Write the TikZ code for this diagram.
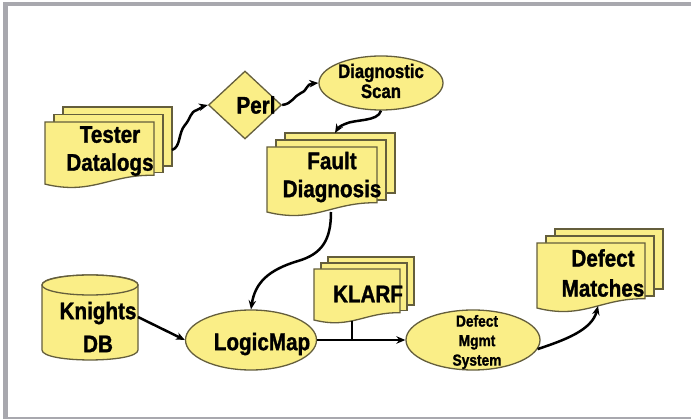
\documentclass[tikz,border=0pt]{standalone}
\usepackage{fontspec}
\newfontfamily\lbl{Liberation Sans}[FakeStretch=0.86, FakeBold=1.3]
\usetikzlibrary{arrows.meta,shapes.geometric}
\definecolor{docfill}{RGB}{250,238,135}
\definecolor{docline}{RGB}{100,94,60}
\definecolor{framegray}{RGB}{168,168,174}
\newcommand\mdoc[6]{% L T W H dx dy
  \draw[shp] ({#1+2*#5},{#2-2*#6}) rectangle ({#1+#3+2*#5},{#2+0.66*#4});
  \draw[shp] ({#1+#5},{#2-#6}) rectangle ({#1+#3+#5},{#2+0.76*#4});
  \draw[shp] (#1,{#2+0.934*#4}) -- (#1,#2) -- ({#1+#3},#2) -- ({#1+#3},{#2+0.802*#4})
    .. controls ({#1+0.596*#3},{#2+0.785*#4}) and ({#1+0.43*#3},{#2+1.105*#4}) .. (#1,{#2+0.934*#4}) -- cycle;
}
\begin{document}
\begin{tikzpicture}[x=1pt,y=-1pt,
  shp/.style={draw=docline, fill=docfill, line width=1.3pt},
  big/.style={font=\lbl\bfseries\fontsize{24}{28}\selectfont, align=center, inner sep=0pt, text=black},
  conn/.style={line width=2.5pt, -{Stealth[length=9pt,width=7.5pt]}},
  plain/.style={line width=2.5pt},
]
\useasboundingbox (0,0) rectangle (691,419);
\fill[white] (0,0) rectangle (691,419);
% frame
\fill[framegray] (3,2.5) rectangle (691,6.5);
\fill[framegray] (3,2.5) rectangle (8,419);
\fill[framegray] (3,417.5) rectangle (691,419);

% documents
\mdoc{45}{122}{109}{66.5}{9}{7.5}
\mdoc{267}{147}{110}{69.6}{9}{7}
\mdoc{314}{269}{86}{54.6}{7}{6}
\mdoc{537}{243}{108}{69.6}{9}{7}

% cylinder
\draw[shp] (42,285) -- (42,350) .. controls (42,363.3) and (138,363.3) .. (138,350) -- (138,285)
  .. controls (138,271.7) and (42,271.7) .. (42,285) -- cycle;
\draw[shp] (90,285) ellipse [x radius=48, y radius=10];

% shape nodes
\node[shp, diamond, inner sep=0pt, minimum width=73pt, minimum height=68pt] (perl) at (245,105) {};
\node[shp, ellipse, inner sep=0pt, minimum width=124pt, minimum height=54pt] (diag) at (381,83) {};
\node[shp, ellipse, inner sep=0pt, minimum width=131pt, minimum height=60pt] (logic) at (251,340) {};
\node[shp, ellipse, inner sep=0pt, minimum width=134pt, minimum height=60pt] (dms) at (473,340) {};

% texts
\node[big] (tester) at (110,151) {Tester\\Datalogs};
\node[big] (perltxt) at (256,105) {Perl};
\node[big, font=\lbl\bfseries\fontsize{19.5}{20}\selectfont] (diagtxt) at (381,81) {Diagnostic\\Scan};
\node[big] (fault) at (332,177) {Fault\\Diagnosis};
\node[big, font=\lbl\bfseries\fontsize{24}{33}\selectfont] (knights) at (98,327) {Knights\\DB};
\node[big] (logictxt) at (262,344) {LogicMap};
\node[big] (klarf) at (368,294) {KLARF};
\node[big, font=\lbl\bfseries\fontsize{16}{19.5}\selectfont] (dmstxt) at (477,342) {Defect\\Mgmt\\System};
\node[big, font=\lbl\bfseries\fontsize{24}{30}\selectfont] (matches) at (603,273) {Defect\\Matches};

% connector end points
\coordinate (tdout) at (172,150);
\coordinate (faulttop) at (335,133);
\coordinate (faultbot) at (331,212);
\coordinate (knout) at (138,317);
\coordinate (klarfbot) at (352,321);
\coordinate (dmbot) at (598,306);

% connectors
\draw[conn] (tdout) .. controls (181,147) and (178,133) .. (185,125)
  .. controls (191,118) and (190,112) .. (197,110) .. controls (201,108) and (204,106) .. (perl.west);
\draw[conn] (perl.east) .. controls (292,104) and (294,96) .. (301,93)
  .. controls (308,90) and (306,84) .. (diag.west);
\draw[conn] (diag.south) .. controls (378,122) and (355,119) .. (345,124)
  .. controls (340,126) and (338,128) .. (faulttop);
\draw[conn] (faultbot) .. controls (331,240) and (322,254) .. (298,261)
  .. controls (268,270) and (255,283) .. (logic.north);
\draw[conn] (knout) -- (logic.west);
\draw[conn] (logic.east) -- (dms.west);
\draw[plain] (klarfbot) -- (klarfbot |- logic.east);
\draw[conn] (dms.-8) .. controls (565,340) and (592,330) .. (dmbot);
\end{tikzpicture}
\end{document}
